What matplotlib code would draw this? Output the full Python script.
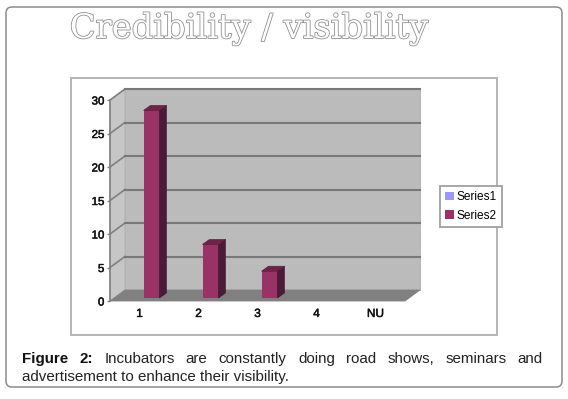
import matplotlib
matplotlib.use("Agg")
import matplotlib.pyplot as plt
import matplotlib.patheffects as pe
from matplotlib.patches import FancyBboxPatch, Polygon, Rectangle
from matplotlib.transforms import Affine2D
import numpy as np

plt.rcParams['font.family'] = ['Liberation Sans', 'DejaVu Sans']

categories = ["1", "2", "3", "4", "NU"]
series1 = [0, 0, 0, 0, 0]
series2 = [28, 8, 4, 0, 0]
y_ticks = [0, 5, 10, 15, 20, 25, 30]
title = "Credibility / visibility"
caption_bold = ["Figure", "2:"]
caption_line1 = ["Incubators", "are", "constantly", "doing", "road", "shows,", "seminars", "and"]
caption_line2 = "advertisement to enhance their visibility."

W, H = 568, 399
fig = plt.figure(figsize=(W / 100, H / 100), dpi=100)

# page furniture in pixel coords
bg = fig.add_axes([0, 0, 1, 1])
bg.set_xlim(0, W)
bg.set_ylim(H, 0)
bg.axis('off')
bg.add_patch(FancyBboxPatch((6, 7), 556, 380, boxstyle="round,pad=0,rounding_size=6",
                            fc='white', ec='#8c8c8c', lw=1.1))
bg.add_patch(Rectangle((71, 78), 426, 257, fc='white', ec='#b4b4b4', lw=1.4))

bg.text(249, 29, title, family='DejaVu Serif', fontsize=24.3, color='white',
        ha='center', va='center',
        path_effects=[pe.withStroke(linewidth=1.2, foreground='#909090')])

# caption, first line justified by hand
renderer = fig.canvas.get_renderer()
words = []
for w in caption_bold:
    words.append(bg.text(0, 363, w, fontsize=10.9, weight='bold', color='#111111'))
for w in caption_line1:
    words.append(bg.text(0, 363, w, fontsize=10.9, color='#222222'))
widths = [t.get_window_extent(renderer).width for t in words]
x0, x1 = 22, 543
gap = (x1 - x0 - sum(widths)) / (len(words) - 1)
x = x0
for t, wd in zip(words, widths):
    t.set_x(x)
    x += wd + gap
bg.text(x0, 381, caption_line2, fontsize=10.9, color='#222222')

# front plane of the 3D box: x 110-405, y 301-100
ax = fig.add_axes([110 / W, (H - 301) / H, 295 / W, 201 / H])
ax.set_xlim(0.5, 5.5)
ax.set_ylim(0, 30)
ax.patch.set_alpha(0)
for s in ['top', 'right', 'bottom']:
    ax.spines[s].set_visible(False)
ax.spines['left'].set_color('#808080')
ax.spines['left'].set_linewidth(1.2)
x_pos = np.arange(1, len(categories) + 1)
ax.set_xticks(x_pos, categories)
ax.set_yticks(y_ticks)
ax.tick_params(axis='x', length=0, pad=5, labelsize=8.5)
ax.tick_params(axis='y', length=2, width=1, color='#808080', pad=2, labelsize=8.3)
for lab in ax.get_xticklabels() + ax.get_yticklabels():
    lab.set_color('#111111')
    lab.set_path_effects([pe.withStroke(linewidth=0.35, foreground='#111111')])

px_x = 59.0
px_y = 6.7
back_dx, back_dy = 15, 11
back = ax.transData + Affine2D().translate(back_dx, back_dy)
mid = ax.transData + Affine2D().translate(4, 3)
bdx, bdy = back_dx / px_x, back_dy / px_y

# walls and floor
ax.add_patch(Polygon([(0.5, 0), (0.5 + bdx, bdy), (0.5 + bdx, 30 + bdy), (0.5, 30)],
                     fc='#c6c6c6', ec='#b0b0b0', lw=0.6, clip_on=False, zorder=1))
ax.add_patch(Rectangle((0.5, 0), 5, 30, transform=back, fc='#bbbbbb', ec='#b0b0b0', lw=0.6,
                       clip_on=False, zorder=1))
ax.add_patch(Polygon([(0.5, 0), (5.5, 0), (5.5 + bdx, bdy), (0.5 + bdx, bdy)],
                     fc='#808080', ec='#808080', lw=0.6, clip_on=False, zorder=2))
for v in y_ticks[1:]:
    ax.plot([0.5, 0.5 + bdx], [v, v + bdy], color='#808080', lw=1.2, clip_on=False, zorder=2)
    ax.plot([0.5, 5.5], [v, v], transform=back, color='#787878', lw=1.5, clip_on=False, zorder=2)

# bars
bar_w = 16 / px_x
b1 = ax.bar(x_pos - bar_w / 2, series1, bar_w, color='#9999ff', label='Series1',
            linewidth=0, transform=mid, clip_on=False, zorder=4)
b2 = ax.bar(x_pos + bar_w / 2, series2, bar_w, color='#993366', label='Series2',
            linewidth=0, transform=mid, clip_on=False, zorder=4)
ddx, ddy = 7 / px_x, 5 / px_y
for xc, v in zip(x_pos + bar_w / 2, series2):
    if v <= 0:
        continue
    xl, xr = xc - bar_w / 2, xc + bar_w / 2
    ax.add_patch(Polygon([(xr, 0), (xr + ddx, ddy), (xr + ddx, v + ddy), (xr, v)], transform=mid,
                         fc='#4a1a38', ec='#3a142c', lw=0.4, clip_on=False, zorder=4))
    ax.add_patch(Polygon([(xl, v), (xr, v), (xr + ddx, v + ddy), (xl + ddx, v + ddy)], transform=mid,
                         fc='#6e2448', ec='#5a1c3a', lw=0.4, clip_on=False, zorder=4))

leg = ax.legend(handles=[b1, b2], loc='center left', bbox_to_anchor=(440 / W, (H - 206.5) / H),
                bbox_transform=fig.transFigure, fontsize=8.6, fancybox=False, edgecolor='#a0a0a0',
                framealpha=1, borderaxespad=0, borderpad=0.45, handlelength=0.7, handleheight=0.7,
                handletextpad=0.2, labelspacing=0.55)
leg.get_frame().set_linewidth(1.3)

fig.savefig("out.png", dpi=100)
